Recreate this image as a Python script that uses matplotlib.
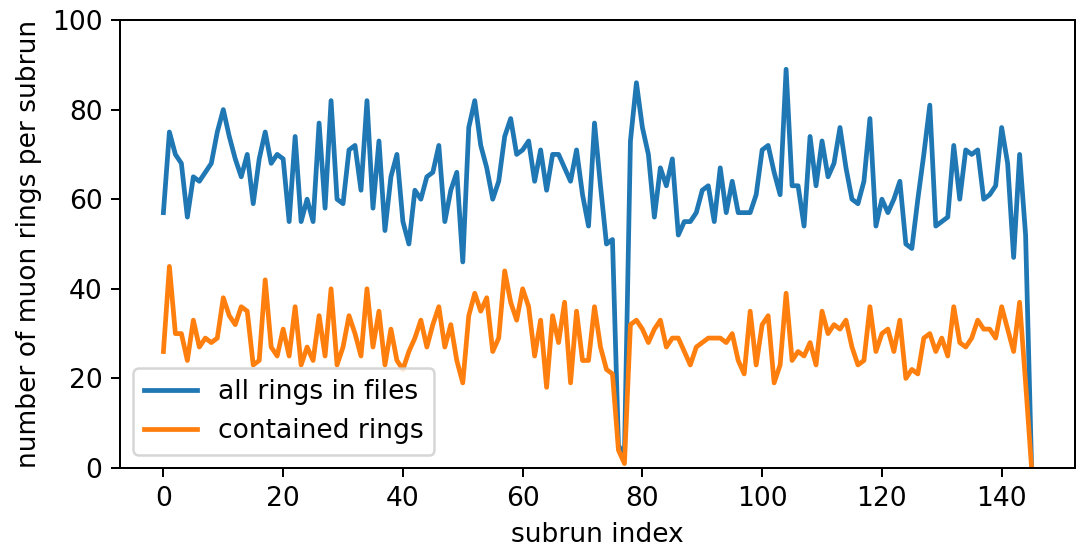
import numpy as np
import matplotlib
matplotlib.use("Agg")
import matplotlib.pyplot as plt

# muon rings per subrun
all_rings = [57, 75, 70, 68, 56, 65, 64, 66, 68, 75,
             80, 74, 69, 65, 70, 59, 69, 75, 68, 70,
             69, 55, 74, 55, 60, 55, 77, 58, 82, 60,
             59, 71, 72, 62, 82, 58, 73, 53, 65, 70,
             55, 50, 62, 60, 65, 66, 72, 55, 62, 66,
             46, 76, 82, 72, 67, 60, 64, 74, 78, 70,
             71, 73, 64, 71, 62, 70, 70, 67, 64, 71,
             61, 54, 77, 63, 50, 51, 5, 3, 73, 86,
             76, 70, 56, 67, 63, 69, 52, 55, 55, 57,
             62, 63, 55, 67, 57, 64, 57, 57, 57, 61,
             71, 72, 66, 61, 89, 63, 63, 54, 74, 63,
             73, 65, 68, 76, 67, 60, 59, 64, 78, 54,
             60, 57, 60, 64, 50, 49, 60, 70, 81, 54,
             55, 56, 72, 60, 71, 70, 71, 60, 61, 63,
             76, 68, 47, 70, 52, 0]

contained = [26, 45, 30, 30, 24, 33, 27, 29, 28, 29,
             38, 34, 32, 36, 35, 23, 24, 42, 27, 25,
             31, 25, 36, 23, 27, 24, 34, 25, 40, 23,
             27, 34, 30, 25, 40, 27, 35, 23, 31, 24,
             22, 26, 29, 33, 27, 32, 36, 27, 32, 24,
             19, 34, 39, 35, 38, 26, 29, 44, 37, 33,
             40, 36, 25, 33, 18, 34, 28, 37, 19, 35,
             24, 24, 36, 27, 22, 21, 4, 1, 32, 33,
             31, 28, 31, 33, 27, 29, 29, 26, 23, 27,
             28, 29, 29, 29, 28, 30, 24, 21, 35, 23,
             32, 34, 19, 23, 39, 24, 26, 25, 28, 23,
             35, 30, 32, 31, 33, 27, 23, 24, 36, 26,
             30, 31, 26, 33, 20, 22, 21, 29, 30, 26,
             29, 25, 36, 28, 27, 29, 33, 31, 31, 29,
             36, 31, 26, 37, 19, 0]

subrun = np.arange(len(all_rings))

plt.rcParams['font.size'] = 10.6
plt.rcParams['lines.linewidth'] = 1.9

fig, ax = plt.subplots(figsize=(1079 / 180, 548 / 180), dpi=180)
ax.plot(subrun, all_rings, label='all rings in files')
ax.plot(subrun, contained, label='contained rings')
ax.set_ylim(0, 100)
ax.set_xlabel('subrun index')
ax.set_ylabel('number of muon rings per subrun')
ax.legend(loc='lower left')
fig.subplots_adjust(left=120 / 1079, right=1075 / 1079, top=1 - 20 / 548, bottom=1 - 468 / 548)
fig.savefig('out.png', dpi=180)
